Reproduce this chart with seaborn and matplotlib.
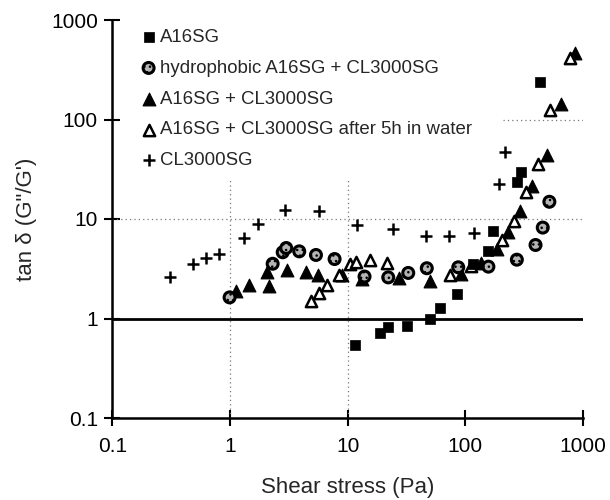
import matplotlib
import matplotlib.pyplot as plt
import seaborn as sns

matplotlib.use("Agg")

# A16SG (filled squares)
a16_x = [11.6, 18.8, 21.8, 32.2, 50.1, 61.2, 85.5, 117, 157, 171, 274, 296, 434]
a16_y = [0.545, 0.72, 0.83, 0.84, 0.99, 1.27, 1.76, 3.53, 4.82, 7.63, 23.8, 29.7, 236]

# hydrophobic A16SG + CL3000SG (hatched circles)
hyd_x = [0.99, 2.30, 2.80, 3.0, 3.87, 5.37, 7.73, 13.9, 22.1, 32.7, 47, 87, 157, 274, 395, 455, 518]
hyd_y = [1.63, 3.55, 4.63, 5.11, 4.73, 4.35, 3.96, 2.64, 2.59, 2.87, 3.2, 3.27, 3.32, 3.9, 5.48, 8.2, 14.9]

# A16SG + CL3000SG (filled triangles)
mix_x = [1.12, 1.46, 2.06, 2.15, 3.03, 4.45, 5.63, 8.9, 13.2, 27.3, 49.7, 91, 135, 184, 232, 289, 369, 490, 647, 857]
mix_y = [1.91, 2.17, 2.93, 2.10, 3.04, 2.93, 2.74, 2.74, 2.5, 2.58, 2.38, 2.77, 3.65, 5.05, 7.4, 12.0, 21.5, 44, 143, 469]

# A16SG + CL3000SG after 5h in water (open triangles)
wat_x = [4.88, 5.74, 6.71, 8.43, 10.4, 11.8, 15.6, 21.7, 74, 112, 204, 257, 325, 411, 525, 779]
wat_y = [1.50, 1.80, 2.17, 2.71, 3.49, 3.70, 3.83, 3.59, 2.74, 3.37, 6.15, 9.55, 18.5, 35.3, 125, 412]

# CL3000SG (plus)
cl_x = [0.31, 0.48, 0.62, 0.80, 1.31, 1.71, 2.93, 5.74, 12.1, 24.2, 46, 73, 119, 195, 218]
cl_y = [2.64, 3.5, 4.03, 4.48, 6.49, 8.85, 12.3, 12.0, 8.7, 7.88, 6.75, 6.75, 7.18, 22.3, 46.8]

decades = [0.1, 1, 10, 100, 1000]
decade_labels = ["0.1", "1", "10", "100", "1000"]

sns.set_style("ticks")
plt.rcParams["font.family"] = ["Liberation Sans", "DejaVu Sans"]

fig, ax = plt.subplots(figsize=(6.1, 5.0), dpi=100)
fig.subplots_adjust(left=0.1844, right=0.9557, bottom=0.164, top=0.96)

ax.set_xscale("log")
ax.set_yscale("log")
ax.set_xlim(0.1, 1000)
ax.set_ylim(0.1, 1000)

# reference lines (partly hidden behind the legend in the original)
grid_kw = dict(color="#777777", linestyle=(0, (1, 2.5)), linewidth=0.9, zorder=1)
ax.vlines([1, 10], 0.1, 26, **grid_kw)
ax.hlines(10, 0.1, 1000, **grid_kw)
ax.hlines(100, 210, 1000, **grid_kw)
ax.axhline(1, color="black", linewidth=2.0, zorder=1)

sns.scatterplot(x=mix_x, y=mix_y, ax=ax, marker="^", s=85, color="black",
                edgecolor="black", linewidth=0.8, label="A16SG + CL3000SG", zorder=3)
sns.scatterplot(x=wat_x, y=wat_y, ax=ax, marker="^", s=66, facecolor="white",
                edgecolor="black", linewidth=1.8,
                label="A16SG + CL3000SG after 5h in water", zorder=4)
sns.scatterplot(x=hyd_x, y=hyd_y, ax=ax, marker="o", s=62, facecolor="#b4b4b4",
                edgecolor="black", linewidth=2.2, hatch="...",
                label="hydrophobic A16SG + CL3000SG", zorder=5)
sns.scatterplot(x=a16_x, y=a16_y, ax=ax, marker="s", s=42, color="black",
                edgecolor="black", linewidth=0.5, label="A16SG", zorder=6)
sns.scatterplot(x=cl_x, y=cl_y, ax=ax, marker="+", s=85, color="black",
                linewidth=1.8, label="CL3000SG", zorder=6)

handles, labels = ax.get_legend_handles_labels()
order = ["A16SG", "hydrophobic A16SG + CL3000SG", "A16SG + CL3000SG",
         "A16SG + CL3000SG after 5h in water", "CL3000SG"]
lookup = dict(zip(labels, handles))
ax.legend([lookup[k] for k in order], order, loc="upper left",
          bbox_to_anchor=(143 / 610, 1 - 29 / 500), bbox_transform=fig.transFigure,
          frameon=False, fontsize=13.4, handlelength=0.6, handletextpad=0.3,
          labelspacing=0.74, borderpad=0, borderaxespad=0)

ax.set_xticks(decades)
ax.set_xticklabels(decade_labels)
ax.set_yticks(decades)
ax.set_yticklabels(decade_labels)
ax.minorticks_off()
ax.tick_params(axis="both", which="major", direction="inout", length=11, width=1.5,
               labelsize=15, color="black", labelcolor="black")
ax.tick_params(axis="x", pad=8)
ax.tick_params(axis="y", pad=5)

for side in ["top", "right"]:
    ax.spines[side].set_visible(False)
for side in ["left", "bottom"]:
    ax.spines[side].set_linewidth(1.8)
    ax.spines[side].set_color("black")

ax.set_xlabel("Shear stress (Pa)", fontsize=16, labelpad=15)
ax.set_ylabel("tan δ (G\"/G')", fontsize=16, labelpad=10)

fig.savefig("out.png", dpi=100)
plt.close(fig)
